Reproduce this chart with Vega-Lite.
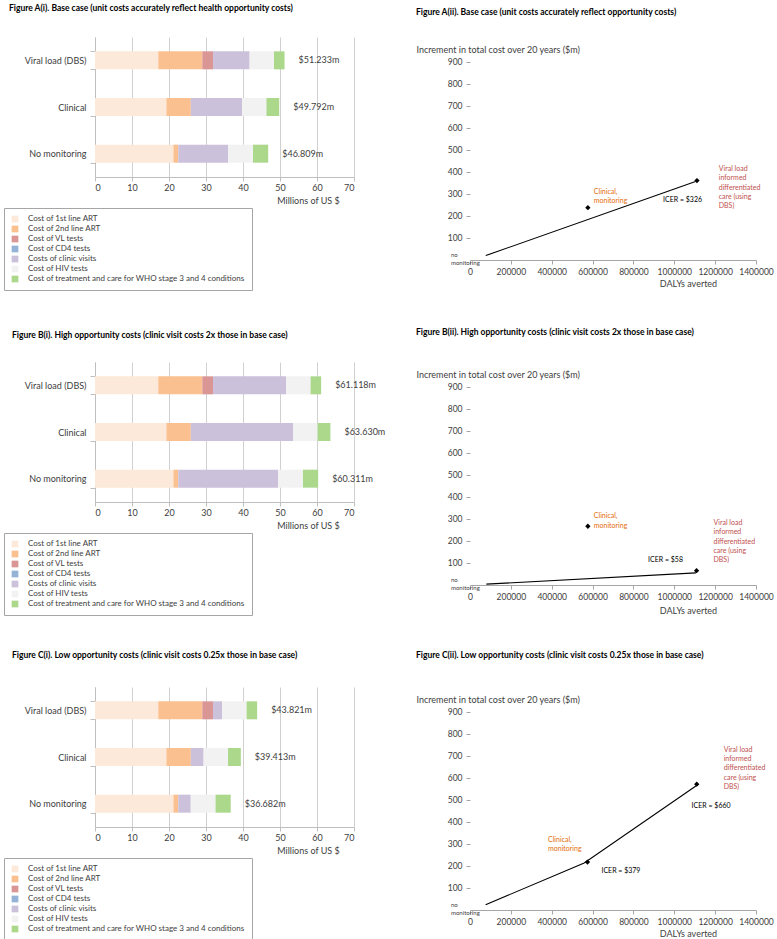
{
"$schema": "https://vega.github.io/schema/vega-lite/v6.json",
"padding": {"left": 3, "top": 3, "right": 0, "bottom": 0},
"config": {
  "view": {"stroke": null},
  "font": "Lato",
  "axis": {"labelFont": "Lato", "titleFont": "Lato", "labelOverlap": false, "tickCount": 20},
  "legend": {"labelFont": "Lato"},
  "text": {"font": "Lato"},
  "title": {"font": "Lato", "fontSize": 8.5, "fontWeight": "bold", "color": "#000000", "anchor": "start", "frame": "group"}
},
"datasets": {
  "bars": [
    {"p":"A","strategy":"Viral load (DBS)","component":"Cost of 1st line ART","cost":17.1},
    {"p":"A","strategy":"Viral load (DBS)","component":"Cost of 2nd line ART","cost":11.9},
    {"p":"A","strategy":"Viral load (DBS)","component":"Cost of VL tests","cost":2.9},
    {"p":"A","strategy":"Viral load (DBS)","component":"Costs of clinic visits","cost":9.885},
    {"p":"A","strategy":"Viral load (DBS)","component":"Cost of HIV tests","cost":6.6},
    {"p":"A","strategy":"Viral load (DBS)","component":"Cost of treatment and care for WHO stage 3 and 4 conditions","cost":2.848},
    {"p":"A","strategy":"Clinical","component":"Cost of 1st line ART","cost":19.3},
    {"p":"A","strategy":"Clinical","component":"Cost of 2nd line ART","cost":6.6},
    {"p":"A","strategy":"Clinical","component":"Costs of clinic visits","cost":13.838},
    {"p":"A","strategy":"Clinical","component":"Cost of HIV tests","cost":6.6},
    {"p":"A","strategy":"Clinical","component":"Cost of treatment and care for WHO stage 3 and 4 conditions","cost":3.454},
    {"p":"A","strategy":"No monitoring","component":"Cost of 1st line ART","cost":21.2},
    {"p":"A","strategy":"No monitoring","component":"Cost of 2nd line ART","cost":1.3},
    {"p":"A","strategy":"No monitoring","component":"Costs of clinic visits","cost":13.502},
    {"p":"A","strategy":"No monitoring","component":"Cost of HIV tests","cost":6.7},
    {"p":"A","strategy":"No monitoring","component":"Cost of treatment and care for WHO stage 3 and 4 conditions","cost":4.107},
    {"p":"B","strategy":"Viral load (DBS)","component":"Cost of 1st line ART","cost":17.1},
    {"p":"B","strategy":"Viral load (DBS)","component":"Cost of 2nd line ART","cost":11.9},
    {"p":"B","strategy":"Viral load (DBS)","component":"Cost of VL tests","cost":2.9},
    {"p":"B","strategy":"Viral load (DBS)","component":"Costs of clinic visits","cost":19.77},
    {"p":"B","strategy":"Viral load (DBS)","component":"Cost of HIV tests","cost":6.6},
    {"p":"B","strategy":"Viral load (DBS)","component":"Cost of treatment and care for WHO stage 3 and 4 conditions","cost":2.848},
    {"p":"B","strategy":"Clinical","component":"Cost of 1st line ART","cost":19.3},
    {"p":"B","strategy":"Clinical","component":"Cost of 2nd line ART","cost":6.6},
    {"p":"B","strategy":"Clinical","component":"Costs of clinic visits","cost":27.676},
    {"p":"B","strategy":"Clinical","component":"Cost of HIV tests","cost":6.6},
    {"p":"B","strategy":"Clinical","component":"Cost of treatment and care for WHO stage 3 and 4 conditions","cost":3.454},
    {"p":"B","strategy":"No monitoring","component":"Cost of 1st line ART","cost":21.2},
    {"p":"B","strategy":"No monitoring","component":"Cost of 2nd line ART","cost":1.3},
    {"p":"B","strategy":"No monitoring","component":"Costs of clinic visits","cost":27.004},
    {"p":"B","strategy":"No monitoring","component":"Cost of HIV tests","cost":6.7},
    {"p":"B","strategy":"No monitoring","component":"Cost of treatment and care for WHO stage 3 and 4 conditions","cost":4.107},
    {"p":"C","strategy":"Viral load (DBS)","component":"Cost of 1st line ART","cost":17.1},
    {"p":"C","strategy":"Viral load (DBS)","component":"Cost of 2nd line ART","cost":11.9},
    {"p":"C","strategy":"Viral load (DBS)","component":"Cost of VL tests","cost":2.9},
    {"p":"C","strategy":"Viral load (DBS)","component":"Costs of clinic visits","cost":2.473},
    {"p":"C","strategy":"Viral load (DBS)","component":"Cost of HIV tests","cost":6.6},
    {"p":"C","strategy":"Viral load (DBS)","component":"Cost of treatment and care for WHO stage 3 and 4 conditions","cost":2.848},
    {"p":"C","strategy":"Clinical","component":"Cost of 1st line ART","cost":19.3},
    {"p":"C","strategy":"Clinical","component":"Cost of 2nd line ART","cost":6.6},
    {"p":"C","strategy":"Clinical","component":"Costs of clinic visits","cost":3.459},
    {"p":"C","strategy":"Clinical","component":"Cost of HIV tests","cost":6.6},
    {"p":"C","strategy":"Clinical","component":"Cost of treatment and care for WHO stage 3 and 4 conditions","cost":3.454},
    {"p":"C","strategy":"No monitoring","component":"Cost of 1st line ART","cost":21.2},
    {"p":"C","strategy":"No monitoring","component":"Cost of 2nd line ART","cost":1.3},
    {"p":"C","strategy":"No monitoring","component":"Costs of clinic visits","cost":3.375},
    {"p":"C","strategy":"No monitoring","component":"Cost of HIV tests","cost":6.7},
    {"p":"C","strategy":"No monitoring","component":"Cost of treatment and care for WHO stage 3 and 4 conditions","cost":4.107}
  ],
  "lines": [
    {"p":"A","dalys":77000,"cost":20},
    {"p":"A","dalys":1104000,"cost":357},
    {"p":"B","dalys":80000,"cost":4},
    {"p":"B","dalys":1106000,"cost":55},
    {"p":"C","dalys":76500,"cost":24},
    {"p":"C","dalys":559000,"cost":214},
    {"p":"C","dalys":1111000,"cost":567}
  ],
  "pts": [
    {"p":"A","strategy":"Clinical","dalys":577000,"cost":238},
    {"p":"A","strategy":"Viral load","dalys":1111000,"cost":361},
    {"p":"B","strategy":"Clinical","dalys":577000,"cost":267},
    {"p":"B","strategy":"Viral load","dalys":1109000,"cost":65},
    {"p":"C","strategy":"Clinical","dalys":575000,"cost":218},
    {"p":"C","strategy":"Viral load","dalys":1110000,"cost":572}
  ],
  "ann": [
    {"p":"A","kind":"clin","text":"Clinical,\nmonitoring","x":606000,"y":310},
    {"p":"A","kind":"vl","text":"Viral load\ninformed\ndifferentiated\ncare (using\nDBS)","x":1217600,"y":414},
    {"p":"A","kind":"icer","text":"ICER = $326","x":945000,"y":273},
    {"p":"A","kind":"nomon","text":"no\nmonitoring","x":0,"y":0},
    {"p":"B","kind":"clin","text":"Clinical,\nmonitoring","x":606000,"y":312},
    {"p":"B","kind":"vl","text":"Viral load\ninformed\ndifferentiated\ncare (using\nDBS)","x":1192000,"y":282},
    {"p":"B","kind":"icer","text":"ICER = $58","x":871700,"y":115},
    {"p":"B","kind":"nomon","text":"no\nmonitoring","x":0,"y":0},
    {"p":"C","kind":"clin","text":"Clinical,\nmonitoring","x":382000,"y":320},
    {"p":"C","kind":"vl","text":"Viral load\ninformed\ndifferentiated\ncare (using\nDBS)","x":1241700,"y":729},
    {"p":"C","kind":"icer","text":"ICER = $379","x":643600,"y":179},
    {"p":"C","kind":"icer","text":"ICER = $660","x":1084800,"y":471},
    {"p":"C","kind":"nomon","text":"no\nmonitoring","x":0,"y":0}
  ]
},
"bounds": "flush",
"columns": 2,
"spacing": {"row": 102, "column": 116},
"resolve": {"scale": {"color": "independent", "x": "independent", "y": "independent"}, "legend": {"color": "independent"}},
"concat": [
  {"width": 259, "height": 140,
   "title": {"text": "Figure A(i).  Base case (unit costs accurately reflect health opportunity costs)", "dx": -86, "offset": 21},
   "data": {"name": "bars"},
   "transform": [{"filter": "datum.p === 'A'"}],
   "layer": [
    {"transform": [{"calculate": "indexof(['Cost of 1st line ART','Cost of 2nd line ART','Cost of VL tests','Cost of CD4 tests','Costs of clinic visits','Cost of HIV tests','Cost of treatment and care for WHO stage 3 and 4 conditions'], datum.component)", "as": "k"}],
     "mark": {"type": "bar"},
     "encoding": {
      "y": {"field":"strategy","type":"nominal","sort":["Viral load (DBS)","Clinical","No monitoring"],"scale":{"paddingInner":0.614,"paddingOuter":0.307},"axis":{"title":null,"tickBand":"extent","tickSize":5,"labelPadding":4,"labelOverlap":false,"domainColor":"#bfbfbf","tickColor":"#bfbfbf","labelFontSize":9,"labelColor":"#404040"}},
      "x": {"field":"cost","type":"quantitative","stack":"zero","scale":{"domain":[0,70],"nice":false},"axis":{"title":"Millions of US $","values":[0,10,20,30,40,50,60,70],"tickCount":20,"labelOverlap":false,"grid":true,"gridColor":"#d0d0d0","domainColor":"#bfbfbf","tickColor":"#bfbfbf","tickSize":4,"labelFontSize":9,"labelColor":"#404040","titleFontSize":9,"titleFontWeight":"normal","titleColor":"#404040","titleX":213,"titleY":23,"titleAlign":"center","titleBaseline":"middle"}},
      "color": {"field":"component","type":"nominal","scale":{"domain":["Cost of 1st line ART","Cost of 2nd line ART","Cost of VL tests","Cost of CD4 tests","Costs of clinic visits","Cost of HIV tests","Cost of treatment and care for WHO stage 3 and 4 conditions"],"range":["#FDE9D9","#FAC090","#D99694","#95B3D7","#CCC1DA","#F2F2F2","#ACD88C"]},"legend":{"title":null,"orient":"none","legendX":-91,"legendY":171,"strokeColor":"#a6a6a6","fillColor":"#ffffff","padding":7,"symbolType":"square","symbolSize":45,"symbolStrokeWidth":0,"labelFontSize":8,"labelColor":"#404040","rowPadding":2,"labelOffset":9,"labelLimit":400}},
      "order": {"field":"k","type":"quantitative"}
     }},
    {"transform": [{"aggregate": [{"op":"sum","field":"cost","as":"total"}], "groupby": ["strategy"]}, {"calculate": "'$' + format(datum.total, '.3f') + 'm'", "as": "lbl"}],
     "mark": {"type":"text","align":"left","baseline":"middle","dx":14,"fontSize":9,"color":"#404040"},
     "encoding": {"y": {"field":"strategy","type":"nominal","sort":["Viral load (DBS)","Clinical","No monitoring"]}, "x": {"field":"total","type":"quantitative"}, "text": {"field":"lbl"}}}
   ]},
  {"width": 286, "height": 223,
   "title": {"text": "Figure A(ii).  Base case (unit costs accurately reflect opportunity costs)", "dx": -54, "offset": 21},
   "layer": [
    {"mark": {"type":"rule","color":"#a6a6a6"},
     "encoding": {
      "x": {"datum":0,"type":"quantitative","scale":{"domain":[0,1400000],"nice":false},"axis":{"title":"DALYs averted","values":[0,200000,400000,600000,800000,1000000,1200000,1400000],"tickCount":20,"labelOverlap":false,"format":"d","grid":false,"domainColor":"#a6a6a6","tickColor":"#a6a6a6","tickSize":4,"labelFontSize":8.5,"labelColor":"#404040","labelPadding":3,"labelFlush":false,"titleX":218,"titleY":23.5,"titleAlign":"center","titleBaseline":"middle","titleFontSize":9,"titleFontWeight":"normal","titleColor":"#404040"}},
      "y": {"datum":55,"type":"quantitative","scale":{"domain":[0,1013.6],"nice":false},"axis":{"title":"Increment in total cost over 20 years ($m)","values":[100,200,300,400,500,600,700,800,900],"tickCount":20,"labelOverlap":false,"domain":false,"grid":false,"tickColor":"#a6a6a6","tickSize":4,"labelFontSize":8.5,"labelColor":"#404040","labelPadding":4,"titleAngle":0,"titleX":-54,"titleY":12.5,"titleAlign":"left","titleBaseline":"middle","titleFontSize":9,"titleFontWeight":"normal","titleColor":"#404040"}},
      "y2": {"datum":900}
     }},
    {"data":{"name":"lines"},"transform":[{"filter":"datum.p === 'A'"}],"mark":{"type":"line","color":"#000000","strokeWidth":1.1},"encoding":{"x":{"field":"dalys","type":"quantitative"},"y":{"field":"cost","type":"quantitative"}}},
    {"data":{"name":"pts"},"transform":[{"filter":"datum.p === 'A'"}],"mark":{"type":"point","shape":"diamond","filled":true,"color":"#000000","size":28,"opacity":1},"encoding":{"x":{"field":"dalys","type":"quantitative"},"y":{"field":"cost","type":"quantitative"}}},
    {"data":{"name":"ann"},"transform":[{"filter":"datum.p === 'A' && datum.kind !== 'nomon'"}],"mark":{"type":"text","align":"left","baseline":"middle","lineBreak":"\n","lineHeight":9.3,"fontSize":7},"encoding":{"x":{"field":"x","type":"quantitative"},"y":{"field":"y","type":"quantitative"},"text":{"field":"text"},"color":{"field":"kind","type":"nominal","scale":{"domain":["icer","clin","vl"],"range":["#000000","#E46C0A","#C0504D"]},"legend":null}}},
    {"data":{"name":"ann"},"transform":[{"filter":"datum.p === 'A' && datum.kind === 'nomon'"}],"mark":{"type":"text","lineBreak":"\n","lineHeight":8,"align":"left","baseline":"middle","dx":-19,"dy":-5,"fontSize":6,"color":"#404040"},"encoding":{"x":{"field":"x","type":"quantitative"},"y":{"field":"y","type":"quantitative"},"text":{"field":"text"}}}
   ]},
  {"width": 259, "height": 140,
   "title": {"text": "Figure B(i). High opportunity costs (clinic visit costs 2x those in base case)", "dx": -83, "offset": 19},
   "data": {"name": "bars"},
   "transform": [{"filter": "datum.p === 'B'"}],
   "layer": [
    {"transform": [{"calculate": "indexof(['Cost of 1st line ART','Cost of 2nd line ART','Cost of VL tests','Cost of CD4 tests','Costs of clinic visits','Cost of HIV tests','Cost of treatment and care for WHO stage 3 and 4 conditions'], datum.component)", "as": "k"}],
     "mark": {"type": "bar"},
     "encoding": {
      "y": {"field":"strategy","type":"nominal","sort":["Viral load (DBS)","Clinical","No monitoring"],"scale":{"paddingInner":0.614,"paddingOuter":0.307},"axis":{"title":null,"tickBand":"extent","tickSize":5,"labelPadding":4,"labelOverlap":false,"domainColor":"#bfbfbf","tickColor":"#bfbfbf","labelFontSize":9,"labelColor":"#404040"}},
      "x": {"field":"cost","type":"quantitative","stack":"zero","scale":{"domain":[0,70],"nice":false},"axis":{"title":"Millions of US $","values":[0,10,20,30,40,50,60,70],"tickCount":20,"labelOverlap":false,"grid":true,"gridColor":"#d0d0d0","domainColor":"#bfbfbf","tickColor":"#bfbfbf","tickSize":4,"labelFontSize":9,"labelColor":"#404040","titleFontSize":9,"titleFontWeight":"normal","titleColor":"#404040","titleX":213,"titleY":23,"titleAlign":"center","titleBaseline":"middle"}},
      "color": {"field":"component","type":"nominal","scale":{"domain":["Cost of 1st line ART","Cost of 2nd line ART","Cost of VL tests","Cost of CD4 tests","Costs of clinic visits","Cost of HIV tests","Cost of treatment and care for WHO stage 3 and 4 conditions"],"range":["#FDE9D9","#FAC090","#D99694","#95B3D7","#CCC1DA","#F2F2F2","#ACD88C"]},"legend":{"title":null,"orient":"none","legendX":-91,"legendY":171,"strokeColor":"#a6a6a6","fillColor":"#ffffff","padding":7,"symbolType":"square","symbolSize":45,"symbolStrokeWidth":0,"labelFontSize":8,"labelColor":"#404040","rowPadding":2,"labelOffset":9,"labelLimit":400}},
      "order": {"field":"k","type":"quantitative"}
     }},
    {"transform": [{"aggregate": [{"op":"sum","field":"cost","as":"total"}], "groupby": ["strategy"]}, {"calculate": "'$' + format(datum.total, '.3f') + 'm'", "as": "lbl"}],
     "mark": {"type":"text","align":"left","baseline":"middle","dx":14,"fontSize":9,"color":"#404040"},
     "encoding": {"y": {"field":"strategy","type":"nominal","sort":["Viral load (DBS)","Clinical","No monitoring"]}, "x": {"field":"total","type":"quantitative"}, "text": {"field":"lbl"}}}
   ]},
  {"width": 286, "height": 223,
   "title": {"text": "Figure B(ii). High opportunity costs (clinic visit costs 2x those in base case)", "dx": -54, "offset": 26},
   "layer": [
    {"mark": {"type":"rule","color":"#a6a6a6"},
     "encoding": {
      "x": {"datum":0,"type":"quantitative","scale":{"domain":[0,1400000],"nice":false},"axis":{"title":"DALYs averted","values":[0,200000,400000,600000,800000,1000000,1200000,1400000],"tickCount":20,"labelOverlap":false,"format":"d","grid":false,"domainColor":"#a6a6a6","tickColor":"#a6a6a6","tickSize":4,"labelFontSize":8.5,"labelColor":"#404040","labelPadding":3,"labelFlush":false,"titleX":218,"titleY":25,"titleAlign":"center","titleBaseline":"middle","titleFontSize":9,"titleFontWeight":"normal","titleColor":"#404040"}},
      "y": {"datum":55,"type":"quantitative","scale":{"domain":[0,1013.6],"nice":false},"axis":{"title":"Increment in total cost over 20 years ($m)","values":[100,200,300,400,500,600,700,800,900],"tickCount":20,"labelOverlap":false,"domain":false,"grid":false,"tickColor":"#a6a6a6","tickSize":4,"labelFontSize":8.5,"labelColor":"#404040","labelPadding":4,"titleAngle":0,"titleX":-54,"titleY":12.5,"titleAlign":"left","titleBaseline":"middle","titleFontSize":9,"titleFontWeight":"normal","titleColor":"#404040"}},
      "y2": {"datum":900}
     }},
    {"data":{"name":"lines"},"transform":[{"filter":"datum.p === 'B'"}],"mark":{"type":"line","color":"#000000","strokeWidth":1.1},"encoding":{"x":{"field":"dalys","type":"quantitative"},"y":{"field":"cost","type":"quantitative"}}},
    {"data":{"name":"pts"},"transform":[{"filter":"datum.p === 'B'"}],"mark":{"type":"point","shape":"diamond","filled":true,"color":"#000000","size":28,"opacity":1},"encoding":{"x":{"field":"dalys","type":"quantitative"},"y":{"field":"cost","type":"quantitative"}}},
    {"data":{"name":"ann"},"transform":[{"filter":"datum.p === 'B' && datum.kind !== 'nomon'"}],"mark":{"type":"text","align":"left","baseline":"middle","lineBreak":"\n","lineHeight":9.3,"fontSize":7},"encoding":{"x":{"field":"x","type":"quantitative"},"y":{"field":"y","type":"quantitative"},"text":{"field":"text"},"color":{"field":"kind","type":"nominal","scale":{"domain":["icer","clin","vl"],"range":["#000000","#E46C0A","#C0504D"]},"legend":null}}},
    {"data":{"name":"ann"},"transform":[{"filter":"datum.p === 'B' && datum.kind === 'nomon'"}],"mark":{"type":"text","lineBreak":"\n","lineHeight":8,"align":"left","baseline":"middle","dx":-19,"dy":-5,"fontSize":6,"color":"#404040"},"encoding":{"x":{"field":"x","type":"quantitative"},"y":{"field":"y","type":"quantitative"},"text":{"field":"text"}}}
   ]},
  {"width": 259, "height": 140,
   "title": {"text": "Figure C(i). Low opportunity costs (clinic visit costs 0.25x those in base case)", "dx": -83, "offset": 24},
   "data": {"name": "bars"},
   "transform": [{"filter": "datum.p === 'C'"}],
   "layer": [
    {"transform": [{"calculate": "indexof(['Cost of 1st line ART','Cost of 2nd line ART','Cost of VL tests','Cost of CD4 tests','Costs of clinic visits','Cost of HIV tests','Cost of treatment and care for WHO stage 3 and 4 conditions'], datum.component)", "as": "k"}],
     "mark": {"type": "bar"},
     "encoding": {
      "y": {"field":"strategy","type":"nominal","sort":["Viral load (DBS)","Clinical","No monitoring"],"scale":{"paddingInner":0.614,"paddingOuter":0.307},"axis":{"title":null,"tickBand":"extent","tickSize":5,"labelPadding":4,"labelOverlap":false,"domainColor":"#bfbfbf","tickColor":"#bfbfbf","labelFontSize":9,"labelColor":"#404040"}},
      "x": {"field":"cost","type":"quantitative","stack":"zero","scale":{"domain":[0,70],"nice":false},"axis":{"title":"Millions of US $","values":[0,10,20,30,40,50,60,70],"tickCount":20,"labelOverlap":false,"grid":true,"gridColor":"#d0d0d0","domainColor":"#bfbfbf","tickColor":"#bfbfbf","tickSize":4,"labelFontSize":9,"labelColor":"#404040","titleFontSize":9,"titleFontWeight":"normal","titleColor":"#404040","titleX":213,"titleY":23,"titleAlign":"center","titleBaseline":"middle"}},
      "color": {"field":"component","type":"nominal","scale":{"domain":["Cost of 1st line ART","Cost of 2nd line ART","Cost of VL tests","Cost of CD4 tests","Costs of clinic visits","Cost of HIV tests","Cost of treatment and care for WHO stage 3 and 4 conditions"],"range":["#FDE9D9","#FAC090","#D99694","#95B3D7","#CCC1DA","#F2F2F2","#ACD88C"]},"legend":{"title":null,"orient":"none","legendX":-91,"legendY":171,"strokeColor":"#a6a6a6","fillColor":"#ffffff","padding":7,"symbolType":"square","symbolSize":45,"symbolStrokeWidth":0,"labelFontSize":8,"labelColor":"#404040","rowPadding":2,"labelOffset":9,"labelLimit":400}},
      "order": {"field":"k","type":"quantitative"}
     }},
    {"transform": [{"aggregate": [{"op":"sum","field":"cost","as":"total"}], "groupby": ["strategy"]}, {"calculate": "'$' + format(datum.total, '.3f') + 'm'", "as": "lbl"}],
     "mark": {"type":"text","align":"left","baseline":"middle","dx":14,"fontSize":9,"color":"#404040"},
     "encoding": {"y": {"field":"strategy","type":"nominal","sort":["Viral load (DBS)","Clinical","No monitoring"]}, "x": {"field":"total","type":"quantitative"}, "text": {"field":"lbl"}}}
   ]},
  {"width": 286, "height": 223,
   "title": {"text": "Figure C(ii). Low opportunity costs (clinic visit costs 0.25x those in base case)", "dx": -54, "offset": 28},
   "layer": [
    {"mark": {"type":"rule","color":"#a6a6a6"},
     "encoding": {
      "x": {"datum":0,"type":"quantitative","scale":{"domain":[0,1400000],"nice":false},"axis":{"title":"DALYs averted","values":[0,200000,400000,600000,800000,1000000,1200000,1400000],"tickCount":20,"labelOverlap":false,"format":"d","grid":false,"domainColor":"#a6a6a6","tickColor":"#a6a6a6","tickSize":4,"labelFontSize":8.5,"labelColor":"#404040","labelPadding":3,"labelFlush":false,"titleX":218,"titleY":23.5,"titleAlign":"center","titleBaseline":"middle","titleFontSize":9,"titleFontWeight":"normal","titleColor":"#404040"}},
      "y": {"datum":55,"type":"quantitative","scale":{"domain":[0,1013.6],"nice":false},"axis":{"title":"Increment in total cost over 20 years ($m)","values":[100,200,300,400,500,600,700,800,900],"tickCount":20,"labelOverlap":false,"domain":false,"grid":false,"tickColor":"#a6a6a6","tickSize":4,"labelFontSize":8.5,"labelColor":"#404040","labelPadding":4,"titleAngle":0,"titleX":-54,"titleY":12.5,"titleAlign":"left","titleBaseline":"middle","titleFontSize":9,"titleFontWeight":"normal","titleColor":"#404040"}},
      "y2": {"datum":900}
     }},
    {"data":{"name":"lines"},"transform":[{"filter":"datum.p === 'C'"}],"mark":{"type":"line","color":"#000000","strokeWidth":1.1},"encoding":{"x":{"field":"dalys","type":"quantitative"},"y":{"field":"cost","type":"quantitative"}}},
    {"data":{"name":"pts"},"transform":[{"filter":"datum.p === 'C'"}],"mark":{"type":"point","shape":"diamond","filled":true,"color":"#000000","size":28,"opacity":1},"encoding":{"x":{"field":"dalys","type":"quantitative"},"y":{"field":"cost","type":"quantitative"}}},
    {"data":{"name":"ann"},"transform":[{"filter":"datum.p === 'C' && datum.kind !== 'nomon'"}],"mark":{"type":"text","align":"left","baseline":"middle","lineBreak":"\n","lineHeight":9.3,"fontSize":7},"encoding":{"x":{"field":"x","type":"quantitative"},"y":{"field":"y","type":"quantitative"},"text":{"field":"text"},"color":{"field":"kind","type":"nominal","scale":{"domain":["icer","clin","vl"],"range":["#000000","#E46C0A","#C0504D"]},"legend":null}}},
    {"data":{"name":"ann"},"transform":[{"filter":"datum.p === 'C' && datum.kind === 'nomon'"}],"mark":{"type":"text","lineBreak":"\n","lineHeight":8,"align":"left","baseline":"middle","dx":-19,"dy":-5,"fontSize":6,"color":"#404040"},"encoding":{"x":{"field":"x","type":"quantitative"},"y":{"field":"y","type":"quantitative"},"text":{"field":"text"}}}
   ]}
]
}
